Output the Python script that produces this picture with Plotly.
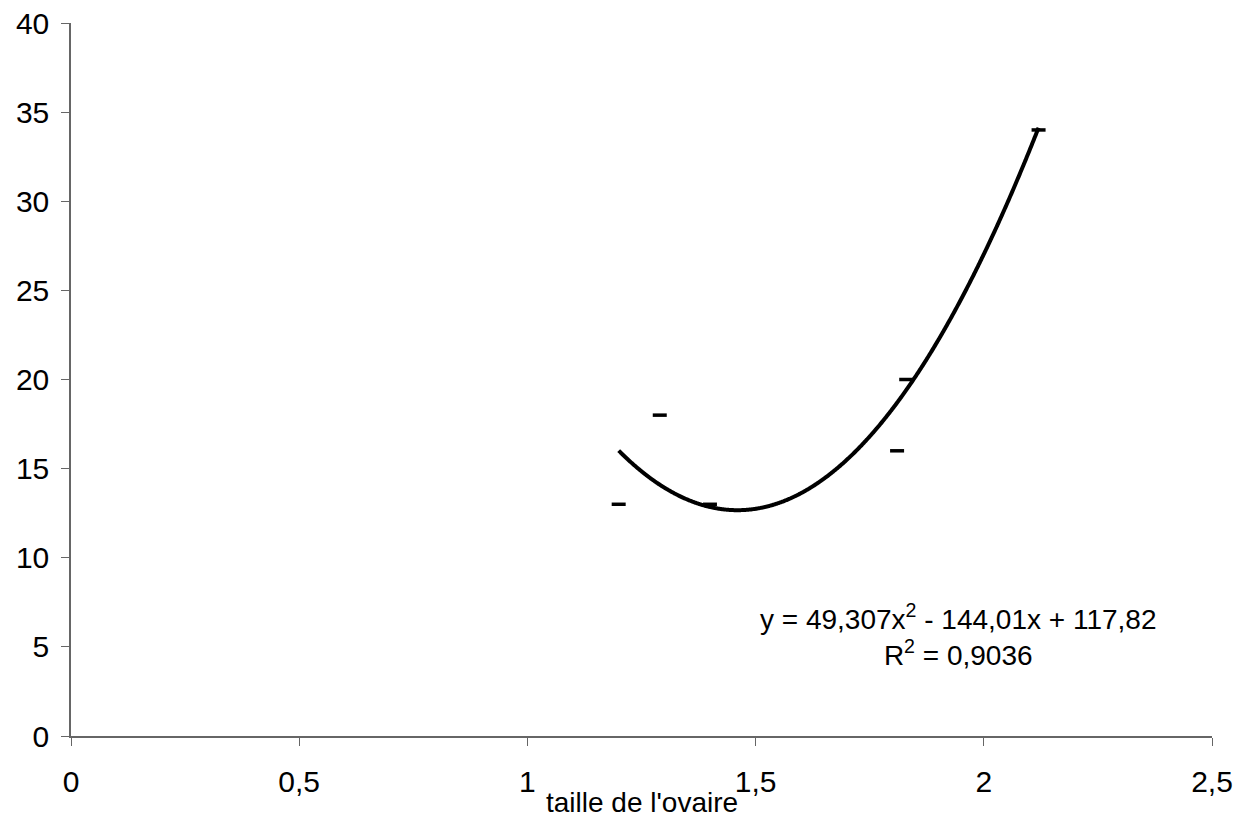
import numpy as np
import plotly.graph_objects as go

# data
taille = [1.2, 1.29, 1.4, 1.81, 1.83, 2.12]
valeurs = [13, 18, 13, 16, 20, 34]
coef = [49.307, -144.01, 117.82]  # trendline y = a x^2 + b x + c
x_ticks = [0, 0.5, 1, 1.5, 2, 2.5]
x_tick_text = ["0", "0,5", "1", "1,5", "2", "2,5"]
y_ticks = [0, 5, 10, 15, 20, 25, 30, 35, 40]
eq_text = "y = 49,307x<sup>2</sup> - 144,01x + 117,82<br>R<sup>2</sup> = 0,9036"
x_title = "taille de l'ovaire"

xs = np.linspace(min(taille), max(taille), 400)
ys = np.polyval(coef, xs)

FONT = "Liberation Sans, Arial, sans-serif"

fig = go.Figure()
fig.add_trace(go.Scatter(x=xs, y=ys, mode="lines", line_shape="spline",
                         line=dict(color="black", width=4), hoverinfo="skip"))
fig.add_trace(go.Scatter(x=taille, y=valeurs, mode="markers",
                         marker=dict(symbol="line-ew", size=10,
                                     line=dict(color="black", width=3.5))))

fig.add_annotation(x=1.9435, y=5.67, xref="x", yref="y", text=eq_text,
                   showarrow=False, align="center", xanchor="center", yanchor="middle",
                   font=dict(family=FONT, size=28, color="black"))

# axis title, placed as in the reference (overlapping tick-label band)
fig.add_annotation(x=0.5, y=-0.093, xref="paper", yref="paper", text=x_title,
                   showarrow=False, xanchor="center", yanchor="middle",
                   font=dict(family=FONT, size=28, color="black"))

axis_color = "#666666"
fig.update_layout(
    width=1252, height=817,
    margin=dict(l=71, r=40, t=23, b=81),
    paper_bgcolor="white", plot_bgcolor="white",
    showlegend=False,
    font=dict(family=FONT, color="black"),
    xaxis=dict(range=[0, 2.5], tickvals=x_ticks, ticktext=x_tick_text,
               automargin=False,
               showgrid=False, zeroline=False, showline=True, linecolor=axis_color,
               linewidth=1.5, ticks="outside", ticklen=8, tickcolor=axis_color,
               tickfont=dict(family=FONT, size=30, color="black"),
               ticklabelstandoff=10),
    yaxis=dict(range=[0, 40], tickvals=y_ticks, automargin=False,
               showgrid=False, zeroline=False, showline=True, linecolor=axis_color,
               linewidth=1.5, ticks="outside", ticklen=8, tickcolor=axis_color,
               tickfont=dict(family=FONT, size=30, color="black"),
               ticklabelstandoff=6),
)

fig.write_html("out.html", config={"displayModeBar": False},
               post_script="document.body.style.margin='0';document.body.style.overflow='hidden';")
